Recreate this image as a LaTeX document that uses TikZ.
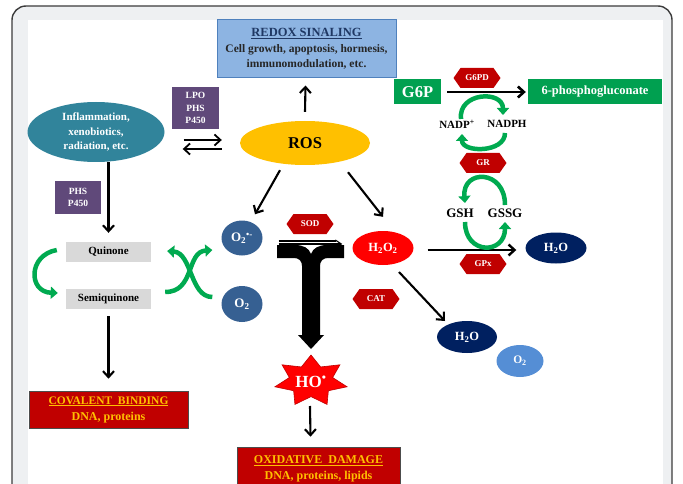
\documentclass[tikz,border=0pt]{standalone}
\usepackage{fontspec}
\setmainfont{Liberation Serif}
\usetikzlibrary{shapes.geometric,shapes.symbols,arrows.meta,calc}
\definecolor{panelgray}{RGB}{238,240,242}
\definecolor{framegray}{RGB}{60,60,60}
\definecolor{redoxfill}{RGB}{141,180,226}
\definecolor{redoxborder}{RGB}{79,129,189}
\definecolor{redoxtitle}{RGB}{31,56,100}
\definecolor{tealc}{RGB}{49,132,155}
\definecolor{purplec}{RGB}{96,73,122}
\definecolor{rosc}{RGB}{255,192,0}
\definecolor{greenbox}{RGB}{0,160,80}
\definecolor{cyclegreen}{RGB}{0,170,80}
\definecolor{darkredc}{RGB}{192,0,0}
\definecolor{redc}{RGB}{255,0,0}
\definecolor{navyc}{RGB}{0,32,96}
\definecolor{steelc}{RGB}{54,96,146}
\definecolor{lightbluec}{RGB}{85,142,213}
\definecolor{grayboxc}{RGB}{217,217,217}
\definecolor{orangetext}{RGB}{255,192,0}
\begin{document}
\begin{tikzpicture}[x=1pt,y=-1pt,
  arr/.style={line width=2.1pt,-{Straight Barb[length=6pt,width=11pt]}},
  garr/.style={line width=4.5pt,draw=cyclegreen,-{Triangle[length=7pt,width=12pt]}},
  hexa/.style={shape=signal,signal to=east and west,signal pointer angle=110,fill=darkredc,text=white,
    font=\bfseries\fontsize{9}{10}\selectfont,minimum width=47pt,minimum height=20pt,inner sep=0pt},
  pbox/.style={fill=purplec,text=white,font=\bfseries\fontsize{9.5}{12.5}\selectfont,align=center,inner sep=0pt},
  gbox/.style={fill=greenbox,text=white,font=\bfseries,inner sep=0pt,minimum height=25pt},
  qbox/.style={fill=grayboxc,text=black,font=\bfseries\fontsize{11}{12}\selectfont,minimum width=85pt,minimum height=20pt,inner sep=0pt},
  ell/.style={ellipse,inner sep=0pt,text=white,font=\bfseries\fontsize{12.5}{14}\selectfont},
  lbl/.style={font=\bfseries,inner sep=0pt,text=black},
  redbox/.style={fill=darkredc,draw=black!70,line width=0.6pt,text=orangetext,align=center,inner sep=0pt,
    font=\bfseries\fontsize{12}{16}\selectfont}
]
\useasboundingbox (0,0) rectangle (683,484);
\fill[white] (0,0) rectangle (683,484);
\draw[line width=1.4pt,draw=framegray,fill=panelgray,rounded corners=14pt] (12,6) rectangle (672,530);
\fill[white] (28,20) rectangle (663,500);

% top box
\node[draw=redoxborder,fill=redoxfill,line width=1pt,minimum width=179pt,minimum height=58pt,inner sep=0pt,align=center,text=black!85,
  font=\bfseries\fontsize{11.5}{15.5}\selectfont]
  (redox) at (306.5,49) {{\fontsize{12.5}{15}\selectfont\color{redoxtitle}\underline{REDOX SINALING}}\\
  Cell growth, apoptosis, hormesis,\\
  immunomodulation, etc.};

% sources
\node[ell,fill=tealc,minimum width=137pt,minimum height=60pt,align=center,font=\bfseries\fontsize{11}{14.5}\selectfont]
  (src) at (96,132) {Inflammation,\\xenobiotics,\\radiation, etc.};
\node[pbox,minimum width=47pt,minimum height=42pt] (lpo) at (195.5,108) {LPO\\PHS\\P450};
\node[pbox,minimum width=46pt,minimum height=32pt] (phs) at (78,197.5) {PHS\\P450};

% ROS
\node[ell,fill=rosc,text=black,minimum width=130pt,minimum height=44pt,font=\bfseries\fontsize{16.5}{17}\selectfont] (ros) at (305,143) {ROS};

% G6P
\node[gbox,minimum width=47pt,font=\bfseries\fontsize{16.5}{17}\selectfont] (g6p) at (417.5,92) {G6P};
\node[gbox,minimum width=134pt,font=\bfseries\fontsize{12.5}{14}\selectfont] (sixp) at (595,92) {6-phosphogluconate};
\node[hexa] (g6pd) at (477,78) {G6PD};
\node[hexa] (gr) at (483,163) {GR};
\node[hexa] (gpx) at (483,264) {GPx};
\node[hexa] (sod) at (310,224) {SOD};
\node[hexa] (cat) at (376,299) {CAT};

\node[lbl,font=\bfseries\fontsize{11}{12}\selectfont] (nadp) at (457,124) {NADP\textsuperscript{+}};
\node[lbl,font=\bfseries\fontsize{11}{12}\selectfont] (nadph) at (507,124) {NADPH};
\node[lbl,font=\bfseries\fontsize{13}{14}\selectfont] (gsh) at (460,213) {GSH};
\node[lbl,font=\bfseries\fontsize{13}{14}\selectfont] (gssg) at (505,213) {GSSG};

% species
\node[ell,fill=steelc,minimum width=41pt,minimum height=35pt,font=\bfseries\fontsize{13}{14}\selectfont] (o2r) at (242,238) {O\textsubscript{2}\textsuperscript{\textbullet-}};
\node[ell,fill=steelc,minimum width=41pt,minimum height=36pt,font=\bfseries\fontsize{13}{14}\selectfont] (o2) at (242,304) {O\textsubscript{2}};
\node[ell,fill=redc,minimum width=61pt,minimum height=34pt] (h2o2) at (383,248) {H\textsubscript{2}O\textsubscript{2}};
\node[ell,fill=navyc,minimum width=61pt,minimum height=31pt] (h2or) at (556,248) {H\textsubscript{2}O};
\node[ell,fill=navyc,minimum width=60pt,minimum height=32pt] (h2ob) at (467,337) {H\textsubscript{2}O};
\node[ell,fill=lightbluec,minimum width=47pt,minimum height=32pt,font=\bfseries\fontsize{11.5}{13}\selectfont] (o2b) at (520,361) {O\textsubscript{2}};

% quinones
\node[qbox] (quin) at (108.5,252) {Quinone};
\node[qbox] (semi) at (108.5,299) {Semiquinone};

% result boxes
\node[redbox,minimum width=159pt,minimum height=37pt] (cov) at (108.5,409.5)
  {{\fontsize{11.5}{16}\selectfont\underline{COVALENT\ \ BINDING}}\\DNA, proteins};
\node[redbox,minimum width=163pt,minimum height=44pt] (dmg) at (318.5,469)
  {\underline{OXIDATIVE\ \ DAMAGE}\\DNA, proteins, lipids};

% hydroxyl star
\filldraw[fill=redc,draw=darkredc,line width=0.6pt]
  plot[samples at={0,...,13},variable=\k]
  ({311+37*(mod(\k,2)==0 ? 1 : 0.6)*cos(-90+\k*360/14)},{381+26*(mod(\k,2)==0 ? 1 : 0.6)*sin(-90+\k*360/14)}) -- cycle;
\node[lbl,text=white,font=\bfseries\fontsize{17}{18}\selectfont] (ho) at (311,382) {HO\textsuperscript{\textbullet}};

% big T arrow
\fill[black] (277,245) -- (295,245) .. controls (303,245) and (309,248) .. (311,254)
  .. controls (313,248) and (319,245) .. (327,245) -- (344,245) -- (344,258) -- (328,258)
  .. controls (323,258) and (320,261) .. (320,266) -- (320,335) -- (324,335) -- (311,349)
  -- (298,335) -- (302,335) -- (302,266) .. controls (302,261) and (299,258) .. (294,258)
  -- (277,258) -- cycle;

% black arrows
\draw[arr] ($(ros.north)+(0,-9)$) -- ($(redox.south)+(-1,7)$);
\draw[arr] ($(ros.south)+(-25,5)$) -- ($(o2r.north)+(13,-6)$);
\draw[arr] ($(ros.south)+(43,7)$) -- ($(h2o2.north)+(0,-14)$);
\draw[arr,line width=1.8pt] ($(src.east)+(19,8)$) -- ($(ros.west)+(-18,-3)$);
\draw[arr,line width=1.8pt] ($(ros.west)+(-18,6)$) -- ($(src.east)+(18,17)$);
\draw[arr] (src.south -| quin.north) -- ($(quin.north)+(0,-9)$);
\draw[arr] ($(semi.south)+(0,7)$) -- ($(cov.north)+(0,-12)$);
\draw[arr] ($(ho)+(-1,24)$) -- ($(dmg.north)+(-8,-10)$);
\draw[arr,line width=2.6pt] ($(g6p.east)+(6,0)$) -- ($(sixp.west)+(-2,0)$);
\draw[arr,line width=2.4pt] ($(h2o2.east)+(14,2)$) -- ($(h2or.west)+(-9,2)$);
\draw[arr] ($(h2o2)+(16,24)$) -- ($(h2ob)+(-22,-16)$);
\draw[line width=1.1pt] ($(o2r.east)+(16,3)$) -- ($(h2o2.west)+(-16,-7)$);
\draw[line width=1.1pt,-{Straight Barb[length=6pt,width=8pt]}] ($(o2r.east)+(16,6)$) -- ($(h2o2.west)+(-10,-4)$);

% green cycles
\draw[garr] ($(nadp)+(4,-5)$) .. controls (458,92) and (503,90) .. ($(nadph)+(-4,-9)$);
\draw[garr] ($(nadph)+(-2,9)$) .. controls (505,153) and (462,153) .. ($(nadp)+(5,10)$);
\draw[garr] ($(gssg)+(0,-8)$) .. controls (505,169) and (462,169) .. ($(gsh)+(5,-10)$);
\draw[garr] ($(gsh)+(5,9)$) .. controls (465,255) and (505,255) .. ($(gssg)+(0,9)$);
\draw[garr] ($(quin.west)+(-9,-2)$) .. controls (28,255) and (28,292) .. ($(semi.west)+(-8,-6)$);
\draw[garr] ($(semi.east)+(14,-7)$) .. controls (195,292) and (186,252) .. ($(o2r.west)+(-9,12)$);
\draw[garr] ($(o2.west)+(-9,-7)$) .. controls (190,297) and (192,253) .. ($(quin.east)+(16,-1)$);
\end{tikzpicture}
\end{document}
